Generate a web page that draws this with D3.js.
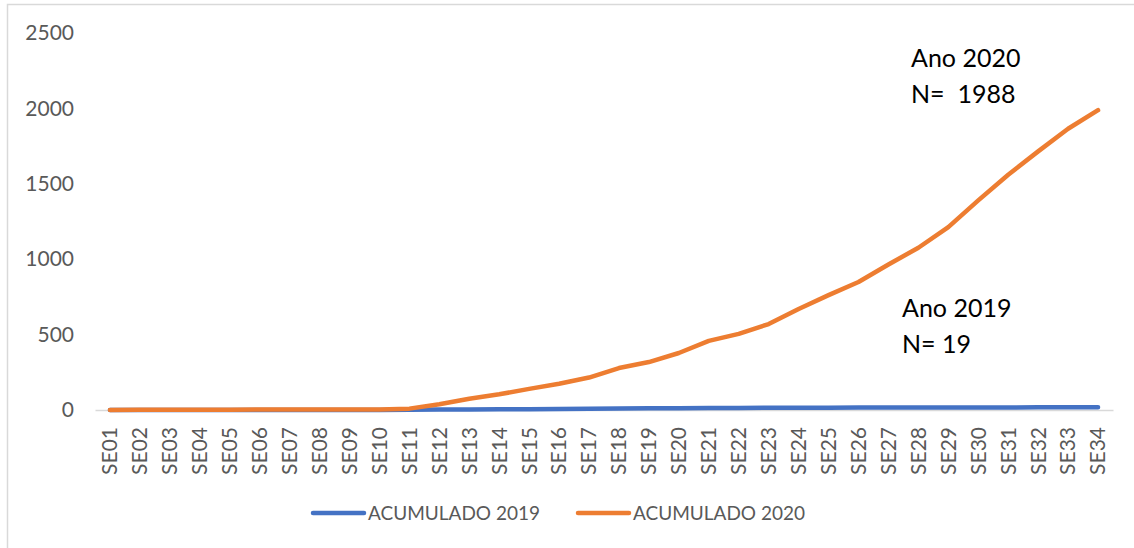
<!DOCTYPE html>
<html>
<head>
<meta charset="utf-8">
<script src="https://cdn.jsdelivr.net/npm/d3@7"></script>
<style>
  body { margin: 0; background: #fff; }
  svg { display: block; font-family: Lato, "Open Sans", sans-serif; }
</style>
</head>
<body>
<div id="chart"></div>
<script>
// Weekly categories and cumulative counts
const weeks = d3.range(1, 35).map(i => "SE" + String(i).padStart(2, "0"));
const acum2019 = [0, 0, 0, 0, 0, 0, 0, 0, 0, 0, 1, 3, 4, 5, 5, 6, 8, 10, 11, 12, 13, 14, 15, 15, 15, 16, 16, 16, 17, 17, 17, 18, 18, 19];
const acum2020 = [0, 1, 2, 2, 2, 3, 3, 3, 3, 4, 9, 38, 75, 104, 140, 174, 215, 278, 318, 378, 458, 505, 570, 670, 762, 849, 965, 1076, 1213, 1390, 1560, 1715, 1865, 1988];
const yTicks = [0, 500, 1000, 1500, 2000, 2500];
const seriesNames = ["ACUMULADO 2019", "ACUMULADO 2020"];
const colors = ["#4472C4", "#ED7D31"];

const width = 1134, height = 548;
const svg = d3.select("#chart").append("svg")
    .attr("width", width)
    .attr("height", height);

// Chart area border (top and left visible)
svg.append("rect")
    .attr("x", 7.5).attr("y", 4.5)
    .attr("width", width + 20).attr("height", height + 20)
    .attr("fill", "none")
    .attr("stroke", "#d9d9d9")
    .attr("stroke-width", 1.5);

const x = d3.scaleBand().domain(weeks).range([95, 1113]);
const y = d3.scaleLinear().domain([0, 2500]).range([410, 33]);

// Y axis labels
const yAxis = svg.append("g")
    .attr("transform", "translate(78,0)")
    .call(d3.axisLeft(y).tickValues(yTicks).tickFormat(d3.format("d")).tickSize(0).tickPadding(4));
yAxis.select(".domain").remove();
yAxis.selectAll("text")
    .attr("fill", "#595959")
    .style("font-size", "21px")
    .style("font-family", "Lato, sans-serif");

// X axis
const xAxis = svg.append("g")
    .attr("transform", "translate(0," + y(0) + ")")
    .call(d3.axisBottom(x).tickSize(0).tickPadding(0));
xAxis.select(".domain").attr("stroke", "#d9d9d9").attr("stroke-width", 1.5);
xAxis.selectAll("text")
    .attr("fill", "#595959")
    .style("font-size", "21px")
    .style("font-family", "Lato, sans-serif")
    .attr("transform", "rotate(-90)")
    .attr("text-anchor", "end")
    .attr("x", -17)
    .attr("y", 0)
    .attr("dy", "0.35em");

// Lines
const line = d3.line()
    .x((d, i) => x(weeks[i]) + x.bandwidth() / 2)
    .y(d => y(d));

[acum2019, acum2020].forEach((vals, k) => {
    svg.append("path")
        .datum(vals)
        .attr("fill", "none")
        .attr("stroke", colors[k])
        .attr("stroke-width", 4.5)
        .attr("stroke-linejoin", "round")
        .attr("stroke-linecap", "round")
        .attr("d", line);
});

// Legend
const legendX = [313, 578];
seriesNames.forEach((name, k) => {
    const g = svg.append("g").attr("transform", "translate(" + legendX[k] + ",513)");
    g.append("line")
        .attr("x1", 0).attr("x2", 51)
        .attr("stroke", colors[k])
        .attr("stroke-width", 4.5)
        .attr("stroke-linecap", "round");
    g.append("text")
        .attr("x", 55).attr("y", 7)
        .attr("fill", "#595959")
        .style("font-size", "19px")
        .text(name);
});

// Annotations
const notes = [
    { x: 911, y: 67, lines: ["Ano 2020", "N=\u00a0 1988"] },
    { x: 902, y: 317, lines: ["Ano 2019", "N= 19"] }
];
notes.forEach(n => {
    n.lines.forEach((t, i) => {
        svg.append("text")
            .attr("x", n.x).attr("y", n.y + i * 36)
            .attr("fill", "#000")
            .style("font-size", "25px")
            .text(t);
    });
});
</script>
</body>
</html>
